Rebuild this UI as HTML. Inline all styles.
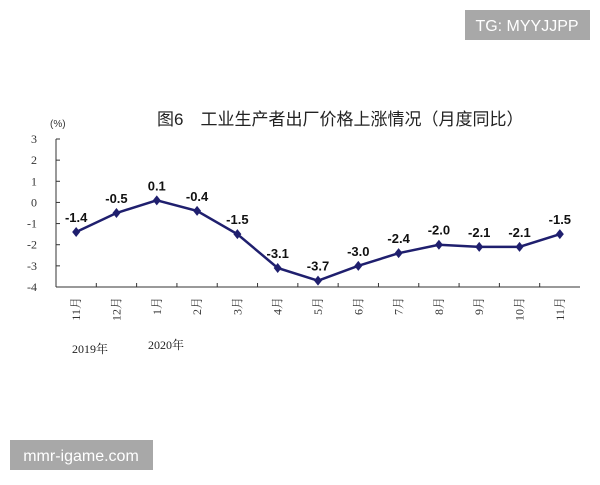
<!DOCTYPE html>
<html><head><meta charset="utf-8"><style>
body{margin:0;background:#fff;}
svg text{font-family:"Liberation Sans","Noto Sans CJK SC",sans-serif;}
svg text.serif{font-family:"Liberation Serif","Noto Serif CJK SC",serif;}
</style></head><body>
<svg width="600" height="480" viewBox="0 0 600 480">
<rect x="465" y="10" width="125" height="30" fill="#a8a8a8"/>
<text x="527" y="31" font-size="16" fill="#fff" text-anchor="middle">TG: MYYJJPP</text>
<rect x="10" y="440" width="143" height="30" fill="#a8a8a8"/>
<text x="81" y="461" font-size="16" fill="#fff" text-anchor="middle">mmr-igame.com</text>
<text x="157" y="125" font-size="17" fill="#222">图6　工业生产者出厂价格上涨情况（月度同比）</text>
<text x="50" y="127" font-size="10" fill="#333">(%)</text>
<g id="axes"></g>
<g id="marks"></g>
<text x="72" y="353" font-size="12" fill="#222" class="serif">2019年</text>
<text x="148" y="349" font-size="12" fill="#222" class="serif">2020年</text>
</svg>
<script>
const categories=["11月","12月","1月","2月","3月","4月","5月","6月","7月","8月","9月","10月","11月"];
const values=[-1.4,-0.5,0.1,-0.4,-1.5,-3.1,-3.7,-3.0,-2.4,-2.0,-2.1,-2.1,-1.5];
const yTicks=[3,2,1,0,-1,-2,-3,-4];
const NS="http://www.w3.org/2000/svg";
const x0=56,x1=580,yTop=139,yBot=287,yMin=-4,yMax=3;
const step=(x1-x0)/categories.length;
function xs(i){return x0+step*(i+0.5);}
function ys(v){return yBot-(v-yMin)/(yMax-yMin)*(yBot-yTop);}
function mk(t,a,p){const e=document.createElementNS(NS,t);for(const k in a)e.setAttribute(k,a[k]);p.appendChild(e);return e;}
const ax=document.getElementById('axes'),mg=document.getElementById('marks');
const yl=mk('line',{x1:x0,y1:yTop,x2:x0,y2:yBot,stroke:'#333','stroke-width':1},ax);


const xl=mk('line',{x1:x0,y1:yBot,x2:x1,y2:yBot,stroke:'#333','stroke-width':1},ax);


yTicks.forEach(v=>{
 mk('line',{x1:x0,y1:ys(v),x2:x0+4,y2:ys(v),stroke:'#333'},ax);
 const t=mk('text',{x:37,y:ys(v)+4,'font-size':12,fill:'#333','text-anchor':'end','class':'serif'},ax);
 t.textContent=v;
 
 
});
for(let i=1;i<categories.length;i++){mk('line',{x1:x0+step*i,y1:yBot,x2:x0+step*i,y2:yBot-4,stroke:'#333'},ax);}
categories.forEach((c,i)=>{
 const t=mk('text',{x:0,y:0,'font-size':12,fill:'#333','text-anchor':'end','class':'serif',transform:`translate(${xs(i)+4},297) rotate(-90)`},ax);
 t.textContent=c;
 
 
});
const line=mk('polyline',{points:values.map((v,i)=>xs(i)+','+ys(v)).join(' '),fill:'none',stroke:'#1f1f6e','stroke-width':2.5},mg);


values.forEach((v,i)=>{
 const x=xs(i),y=ys(v);
 const d=mk('polygon',{points:`${x},${y-5} ${x+4},${y} ${x},${y+5} ${x-4},${y}`,fill:'#1f1f6e'},mg);
 
 
 const t=mk('text',{x:x,y:y-10,'font-size':13,'font-weight':'bold',fill:'#111','text-anchor':'middle'},mg);
 t.textContent=v.toFixed(1);
 
 
});
</script>
</body></html>
